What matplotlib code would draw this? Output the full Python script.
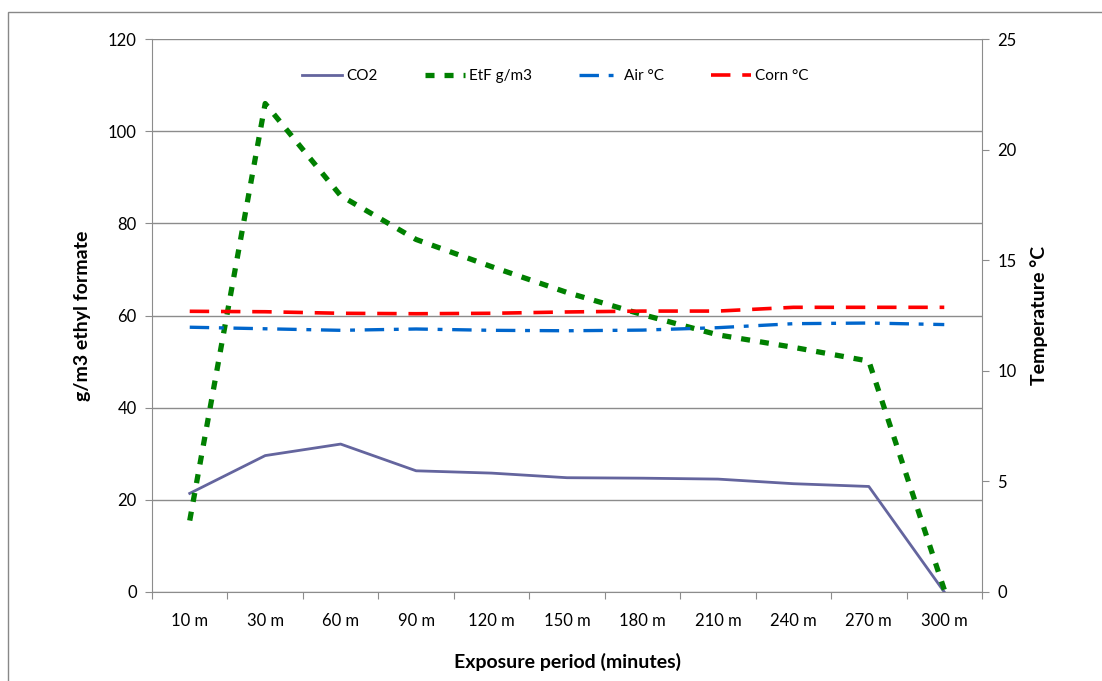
import matplotlib
matplotlib.use("Agg")
import matplotlib.pyplot as plt
from matplotlib.patches import Rectangle

plt.rcParams['font.family'] = ['Lato', 'DejaVu Sans']
plt.rcParams['lines.scale_dashes'] = False

categories = ["10 m", "30 m", "60 m", "90 m", "120 m", "150 m", "180 m",
              "210 m", "240 m", "270 m", "300 m"]
co2 = [21.4, 29.6, 32.1, 26.3, 25.8, 24.8, 24.7, 24.5, 23.5, 22.9, 0.0]
etf = [15.5, 106.0, 86.0, 76.5, 70.6, 65.0, 60.2, 55.8, 53.1, 50.1, 0.5]
air = [11.97, 11.90, 11.83, 11.89, 11.83, 11.81, 11.84, 11.95, 12.13, 12.16, 12.09]
corn = [12.69, 12.67, 12.60, 12.58, 12.60, 12.66, 12.70, 12.70, 12.87, 12.87, 12.87]

W, H = 1102, 681
fig = plt.figure(figsize=(W / 100, H / 100), dpi=100)
fig.patches.append(Rectangle((8 / W, -0.1), 1.2, 1.1 - 12 / H,
                             transform=fig.transFigure, fill=False,
                             edgecolor='#888888', linewidth=1.0))
left, right, top, bottom = 152, 982, 39, 592
ax = fig.add_axes([left / W, 1 - bottom / H, (right - left) / W, (bottom - top) / H])
ax2 = ax.twinx()

x = list(range(len(categories)))
grid_c = '#8c8c8c'

l1, = ax.plot(x, co2, color='#64659E', lw=2.0, label='CO2', zorder=5)
l2, = ax.plot(x, etf, color='#008000', lw=3.8, ls=(0, (6.5, 7.2)),
              label='EtF g/m3', zorder=6)
l3, = ax2.plot(x, air, color='#0066CC', lw=2.4, ls=(0, (14, 7, 3.5, 7)),
               label='Air °C')
l4, = ax2.plot(x, corn, color='#FF0000', lw=2.6, ls=(0, (14, 8.5)),
               label='Corn °C')

ax.set_xlim(-0.5, len(categories) - 0.5)
ax.set_ylim(0, 120)
ax2.set_ylim(0, 25)
ax.set_yticks(range(0, 121, 20))
ax2.set_yticks(range(0, 26, 5))
ax.yaxis.grid(True, color=grid_c, lw=1.0)
ax.set_axisbelow(True)

ax.set_xticks([i - 0.5 for i in range(len(categories) + 1)])
ax.set_xticklabels([])
ax.set_xticks(x, minor=True)
ax.set_xticklabels(categories, minor=True)
ax.tick_params(axis='x', which='major', length=5, color=grid_c, direction='out')
ax.tick_params(axis='x', which='minor', length=0, pad=15, labelsize=12)
ax.tick_params(axis='y', length=5, color=grid_c, labelsize=12, pad=6)
ax2.tick_params(axis='y', length=5, color=grid_c, labelsize=12, pad=6)

for a in (ax, ax2):
    a.spines['top'].set_visible(False)
    for s in ('left', 'right', 'bottom'):
        a.spines[s].set_color(grid_c)
ax2.spines['bottom'].set_visible(False)
ax2.spines['left'].set_visible(False)
ax.spines['right'].set_visible(False)

ax.set_ylabel('g/m3 ethyl formate', fontsize=14, fontweight='bold', labelpad=12)
ax2.set_ylabel('Temperature °C', fontsize=14, fontweight='bold', labelpad=10)
ax.set_xlabel('Exposure period (minutes)', fontsize=14, fontweight='bold', labelpad=17)

leg = ax.legend(handles=[l1, l2, l3, l4], loc='upper center', ncol=4,
                frameon=False, fontsize=11, handlelength=2.6,
                columnspacing=3.1, handletextpad=0.3,
                bbox_to_anchor=(0.486, 0.97))

fig.savefig('out.png', dpi=100)
